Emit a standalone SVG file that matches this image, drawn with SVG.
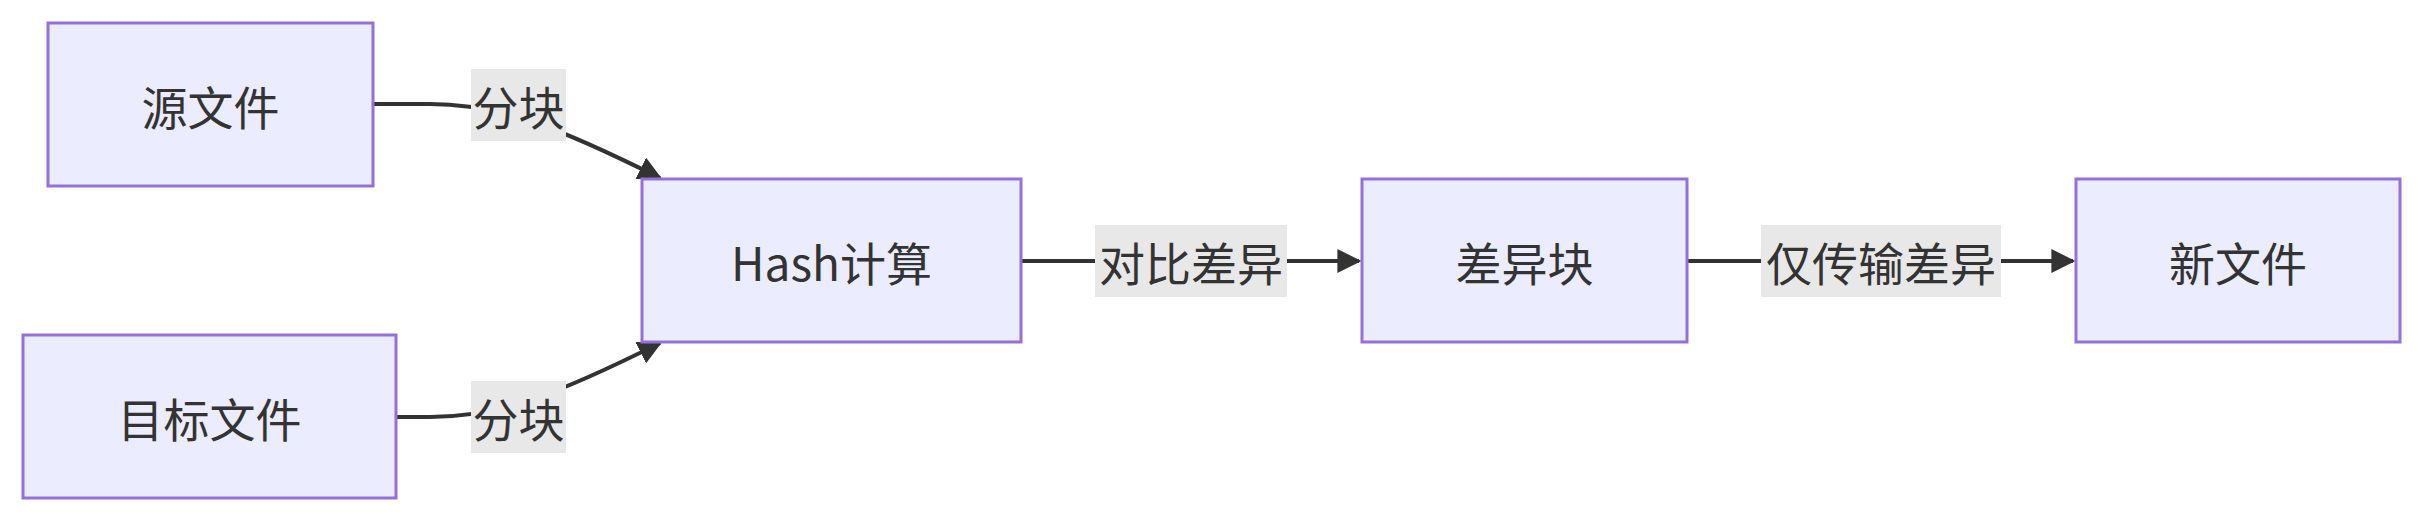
<svg xmlns="http://www.w3.org/2000/svg" width="2424" height="522" viewBox="0 0 2424 522">
<defs>
<style>
.node rect{fill:#ECECFF;stroke:#9370DB;stroke-width:3}
text{font-family:"Noto Sans CJK SC","Noto Sans",sans-serif;font-size:46px;fill:#333;text-anchor:middle;dominant-baseline:central}
.edge{fill:none;stroke:#333;stroke-width:4}
.lbl rect{fill:#e8e8e8}
</style>
<marker id="arr" viewBox="0 0 10 10" refX="9" refY="5" markerWidth="24" markerHeight="24" markerUnits="userSpaceOnUse" orient="auto"><path d="M0,0L10,5L0,10z" fill="#333"/></marker>
</defs>
<g id="connectors">
<path class="edge" d="M373,104 L430,104 C500,104 560,128 660,178" marker-end="url(#arr)"/>
<path class="edge" d="M396,417 L430,417 C500,417 560,393 660,343" marker-end="url(#arr)"/>
<path class="edge" d="M1021,261 L1359,261" marker-end="url(#arr)"/>
<path class="edge" d="M1687,261 L2073,261" marker-end="url(#arr)"/>
<g class="lbl"><rect x="471" y="69" width="95" height="72"/><text x="518.5" y="105">分块</text></g>
<g class="lbl"><rect x="471" y="381" width="95" height="72"/><text x="518.5" y="417">分块</text></g>
<g class="lbl"><rect x="1095" y="225" width="192" height="72"/><text x="1191" y="261">对比差异</text></g>
<g class="lbl"><rect x="1761" y="225" width="240" height="72"/><text x="1881" y="261">仅传输差异</text></g>
</g>
<g id="src" class="node"><rect x="48" y="23" width="325" height="163"/><text x="210.5" y="104.5">源文件</text></g>
<g id="dst" class="node"><rect x="23" y="335" width="373" height="163"/><text x="209.5" y="416.5">目标文件</text></g>
<g id="hash" class="node"><rect x="642" y="179" width="379" height="163"/><text x="831.5" y="260.5">Hash计算</text></g>
<g id="diff" class="node"><rect x="1362" y="179" width="325" height="163"/><text x="1524.5" y="260.5">差异块</text></g>
<g id="new" class="node"><rect x="2076" y="179" width="324" height="163"/><text x="2238" y="260.5">新文件</text></g>
</svg>
